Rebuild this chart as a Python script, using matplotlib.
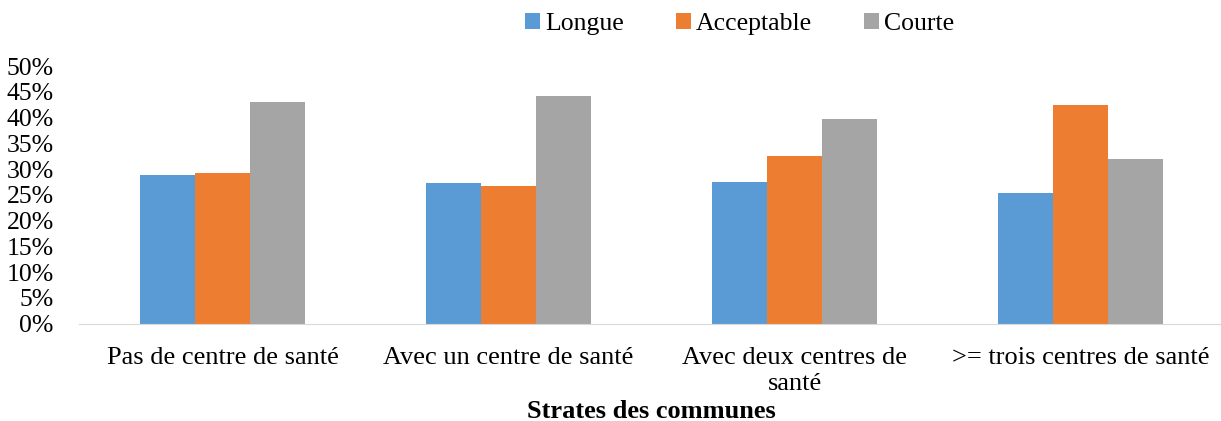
import numpy as np
import matplotlib
matplotlib.use('Agg')
import matplotlib.pyplot as plt
from matplotlib.ticker import PercentFormatter

plt.rcParams['font.family'] = ['Liberation Serif', 'DejaVu Serif']

# data (percent)
categories = ['Pas de centre de santé', 'Avec un centre de santé',
              'Avec deux centres de\nsanté', '>= trois centres de santé']
longue = [28.9, 27.4, 27.6, 25.3]
acceptable = [29.3, 26.8, 32.5, 42.5]
courte = [43.0, 44.2, 39.7, 31.9]

series = [('Longue', longue, '#5B9BD5'),
          ('Acceptable', acceptable, '#ED7D31'),
          ('Courte', courte, '#A5A5A5')]

fig = plt.figure(figsize=(12.21, 4.21), dpi=100)
ax = fig.add_axes([0.0651, 0.231, 0.937, 0.612])

x = np.arange(len(categories))
w = 0.192
for i, (name, vals, col) in enumerate(series):
    ax.bar(x + (i - 1) * w, vals, w, color=col, label=name)

ax.set_xlim(-0.5, len(categories) - 0.5)
ax.set_ylim(0, 50)
ax.set_yticks(np.arange(0, 51, 5))
ax.yaxis.set_major_formatter(PercentFormatter(decimals=0))
ax.set_xticks(x)
ax.set_xticklabels(categories, fontsize=19, linespacing=1.25)
ax.tick_params(axis='y', labelsize=18.5, length=0, pad=18.5)
ax.tick_params(axis='x', length=0, pad=16.5)

for s in ['top', 'right', 'left']:
    ax.spines[s].set_visible(False)
ax.spines['bottom'].set_color('#D9D9D9')

ax.set_xlabel('Strates des communes', fontsize=19, fontweight='bold', labelpad=3.5)

ax.legend(loc='lower center', bbox_to_anchor=(0.577, 1.08), ncol=3, frameon=False,
          fontsize=18.5, handlelength=0.6, handleheight=0.6, handletextpad=0.2,
          columnspacing=2.0, borderaxespad=0)

fig.savefig('out.png', dpi=100)
